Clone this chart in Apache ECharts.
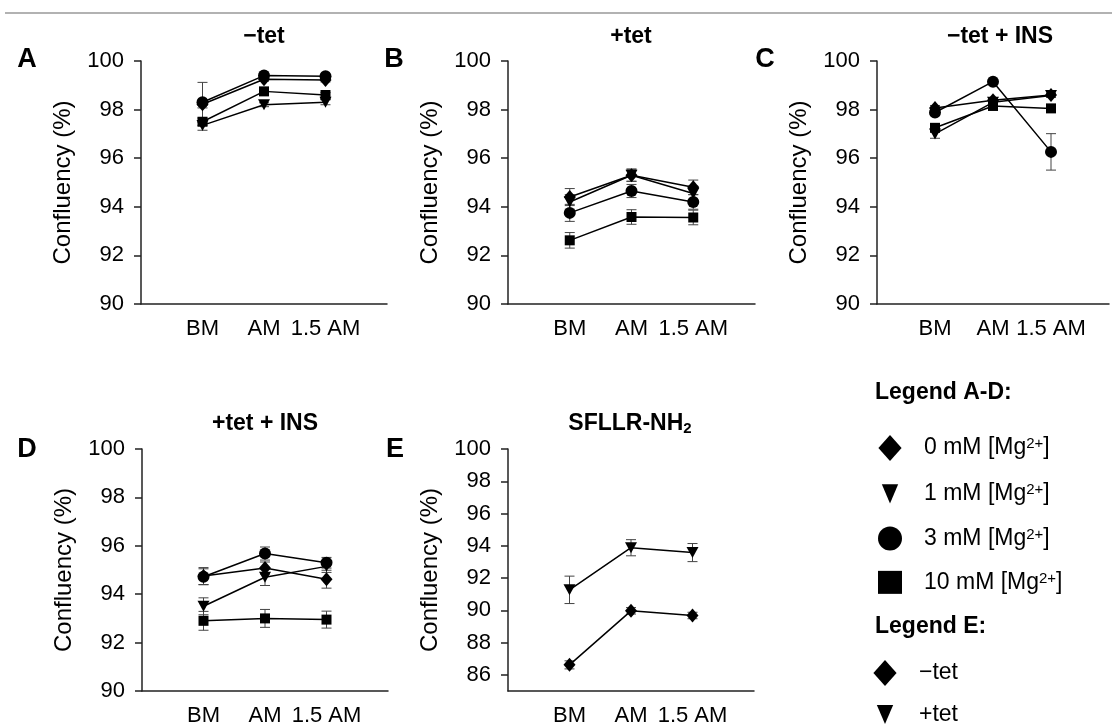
<!DOCTYPE html>
<html><head><meta charset="utf-8">
<script src="https://cdn.jsdelivr.net/npm/echarts@6/dist/echarts.min.js"></script>
<style>html,body{margin:0;padding:0;background:#fff}#c{width:1112px;height:727px}</style>
</head><body><div id="c"></div>
<script>
const CATS = ['BM', 'AM', '1.5 AM'];
const LEGEND_AD = ['0 mM', '1 mM', '3 mM', '10 mM'];
const LEGEND_E = ['\u2212tet', '+tet'];
const PANEL_TITLES = ['\u2212tet', '+tet', '\u2212tet + INS', '+tet + INS', 'SFLLR-NH'];
const PANEL_LETTERS = ['A', 'B', 'C', 'D', 'E'];
const Y_TICKS_AD = [90, 92, 94, 96, 98, 100];
const Y_TICKS_E = [86, 88, 90, 92, 94, 96, 98, 100];

// Panel A (-tet)
const A_MG0 = [98.22, 99.25, 99.22];   const A_MG0_ERR = [0.15, 0.08, 0.08];
const A_MG1 = [97.35, 98.2, 98.3];     const A_MG1_ERR = [0.2, 0.08, 0.1];
const A_MG3 = [98.3, 99.4, 99.37];     const A_MG3_ERR = [0.82, 0.08, 0.08];
const A_MG10 = [97.5, 98.75, 98.6];    const A_MG10_ERR = [0.15, 0.1, 0.1];
// Panel B (+tet)
const B_MG0 = [94.4, 95.3, 94.8];      const B_MG0_ERR = [0.35, 0.25, 0.3];
const B_MG1 = [94.2, 95.3, 94.55];     const B_MG1_ERR = [0.3, 0.25, 0.3];
const B_MG3 = [93.75, 94.65, 94.2];    const B_MG3_ERR = [0.35, 0.27, 0.3];
const B_MG10 = [92.62, 93.58, 93.56];  const B_MG10_ERR = [0.32, 0.3, 0.3];
// Panel C (-tet + INS)
const C_MG0 = [98.07, 98.38, 98.6];    const C_MG0_ERR = [0.1, 0.1, 0.08];
const C_MG1 = [97.0, 98.3, 98.58];     const C_MG1_ERR = [0.18, 0.1, 0.08];
const C_MG3 = [97.88, 99.15, 96.26];   const C_MG3_ERR = [0.12, 0.08, 0.75];
const C_MG10 = [97.25, 98.15, 98.05];  const C_MG10_ERR = [0.1, 0.1, 0.08];
// Panel D (+tet + INS)
const D_MG0 = [94.75, 95.08, 94.62];   const D_MG0_ERR = [0.35, 0.25, 0.37];
const D_MG1 = [93.5, 94.7, 95.15];     const D_MG1_ERR = [0.35, 0.34, 0.25];
const D_MG3 = [94.72, 95.68, 95.3];    const D_MG3_ERR = [0.33, 0.27, 0.22];
const D_MG10 = [92.9, 93.0, 92.95];    const D_MG10_ERR = [0.39, 0.37, 0.35];
// Panel E (SFLLR-NH2)
const E_MINUS = [86.62, 89.97, 89.68]; const E_MINUS_ERR = [0.25, 0.2, 0.2];
const E_PLUS = [91.27, 93.88, 93.58];  const E_PLUS_ERR = [0.85, 0.5, 0.56];

const FONT = 'Liberation Sans, Arial, sans-serif';
const TRI = 'path://M0,0L12,0L6,11Z';
const SYM = {
  d: {symbol: 'diamond', size: [12, 14]},
  t: {symbol: TRI, size: [12, 11]},
  c: {symbol: 'circle', size: 12},
  s: {symbol: 'rect', size: 10}
};
const ICON = {
  d: 'path://M12.5,0L25,14L12.5,28L0,14Z',
  t: 'path://M-4,-3M0,0L17,0L8.5,20ZM21,23',
  c: 'circle',
  s: 'path://M0,0L24,0L24,23L0,23Z'
};

const grids = [
  {left: 141, top: 61, width: 246, height: 243},
  {left: 508, top: 61, width: 247, height: 243},
  {left: 877, top: 61, width: 246, height: 243},
  {left: 142, top: 449, width: 246, height: 244},
  {left: 508, top: 449, width: 246, height: 244}
];

const panels = [
  [[LEGEND_AD[0], A_MG0, A_MG0_ERR, 'd'], [LEGEND_AD[1], A_MG1, A_MG1_ERR, 't'], [LEGEND_AD[2], A_MG3, A_MG3_ERR, 'c'], [LEGEND_AD[3], A_MG10, A_MG10_ERR, 's']],
  [[LEGEND_AD[0], B_MG0, B_MG0_ERR, 'd'], [LEGEND_AD[1], B_MG1, B_MG1_ERR, 't'], [LEGEND_AD[2], B_MG3, B_MG3_ERR, 'c'], [LEGEND_AD[3], B_MG10, B_MG10_ERR, 's']],
  [[LEGEND_AD[0], C_MG0, C_MG0_ERR, 'd'], [LEGEND_AD[1], C_MG1, C_MG1_ERR, 't'], [LEGEND_AD[2], C_MG3, C_MG3_ERR, 'c'], [LEGEND_AD[3], C_MG10, C_MG10_ERR, 's']],
  [[LEGEND_AD[0], D_MG0, D_MG0_ERR, 'd'], [LEGEND_AD[1], D_MG1, D_MG1_ERR, 't'], [LEGEND_AD[2], D_MG3, D_MG3_ERR, 'c'], [LEGEND_AD[3], D_MG10, D_MG10_ERR, 's']],
  [[LEGEND_E[0], E_MINUS, E_MINUS_ERR, 'd'], [LEGEND_E[1], E_PLUS, E_PLUS_ERR, 't']]
];

function errRender(params, api) {
  const x = api.value(0), lo = api.value(1), hi = api.value(2);
  const p1 = api.coord([x, hi]), p2 = api.coord([x, lo]);
  const w = 5, st = {stroke: '#444', lineWidth: 1};
  return {type: 'group', children: [
    {type: 'line', shape: {x1: p1[0], y1: p1[1], x2: p2[0], y2: p2[1]}, style: st},
    {type: 'line', shape: {x1: p1[0] - w, y1: p1[1], x2: p1[0] + w, y2: p1[1]}, style: st},
    {type: 'line', shape: {x1: p2[0] - w, y1: p2[1], x2: p2[0] + w, y2: p2[1]}, style: st}
  ]};
}

const xAxes = [], yAxes = [], series = [];
grids.forEach((g, gi) => {
  xAxes.push({
    type: 'value', gridIndex: gi, min: 0, max: 4, interval: 1,
    axisLine: {show: true, lineStyle: {color: '#222', width: 1.5}},
    axisTick: {show: false}, splitLine: {show: false},
    axisLabel: {fontSize: 22, color: '#000', fontFamily: FONT, margin: 14,
      formatter: v => CATS[v - 1] || ''}
  });
  const isE = gi === 4;
  yAxes.push({
    type: 'value', gridIndex: gi, min: isE ? 85 : 90, max: 100, interval: isE ? 1 : 2,
    name: 'Confluency (%)', nameLocation: 'middle', nameGap: 66,
    nameTextStyle: {fontSize: 24, color: '#000', fontFamily: FONT},
    axisLine: {show: true, lineStyle: {color: '#222', width: 1.5}},
    axisTick: {show: true, length: 7, lineStyle: {color: '#222', width: 1.5},
      customValues: isE ? Y_TICKS_E : Y_TICKS_AD},
    splitLine: {show: false},
    axisLabel: {fontSize: 22, color: '#000', fontFamily: FONT, margin: 17,
      customValues: isE ? Y_TICKS_E : Y_TICKS_AD}
  });
  panels[gi].forEach(([name, vals, errs, sk]) => {
    series.push({
      type: 'custom', xAxisIndex: gi, yAxisIndex: gi, silent: true, z: 2,
      renderItem: errRender, encode: {x: 0, y: [1, 2]},
      data: vals.map((v, i) => [i + 1, v - errs[i], v + errs[i]])
    });
    series.push({
      type: 'line', name: name, xAxisIndex: gi, yAxisIndex: gi, z: 3,
      data: vals.map((v, i) => [i + 1, v]),
      symbol: SYM[sk].symbol, symbolSize: SYM[sk].size,
      lineStyle: {color: '#000', width: 1.5},
      itemStyle: {color: '#000'}, animation: false
    });
  });
});

const graphics = [
  {type: 'line', shape: {x1: 5, y1: 13, x2: 1112, y2: 13}, style: {stroke: '#999', lineWidth: 1.5}}
];
const titleCenters = [[264, 37], [631, 37], [1000, 37], [265, 424], [630, 424]];
PANEL_TITLES.forEach((t, i) => {
  const txt = i === 4 ? '{b|' + t + '}{s|2}' : '{b|' + t + '}';
  graphics.push({type: 'text', x: titleCenters[i][0], y: titleCenters[i][1],
    style: {text: txt, align: 'center', verticalAlign: 'middle',
      rich: {b: {fontSize: 23, fontWeight: 'bold', fontFamily: FONT, fill: '#000'},
             s: {fontSize: 15, fontWeight: 'bold', fontFamily: FONT, fill: '#000', verticalAlign: 'bottom', padding: [10, 0, 0, 0]}}}});
});
const letterPos = [[27, 60], [394, 60], [765, 60], [27, 450], [395, 450]];
PANEL_LETTERS.forEach((t, i) => {
  graphics.push({type: 'text', x: letterPos[i][0], y: letterPos[i][1],
    style: {text: t, align: 'center', verticalAlign: 'middle', fontSize: 27, fontWeight: 'bold', fontFamily: FONT, fill: '#000'}});
});
graphics.push({type: 'text', x: 875, y: 393, style: {text: 'Legend A-D:', verticalAlign: 'middle', fontSize: 23, fontWeight: 'bold', fontFamily: FONT, fill: '#000'}});
graphics.push({type: 'text', x: 875, y: 627, style: {text: 'Legend E:', verticalAlign: 'middle', fontSize: 23, fontWeight: 'bold', fontFamily: FONT, fill: '#000'}});

const richLegend = {
  f: {fontSize: 23, fontFamily: FONT, color: '#000', padding: [0, 0, 0, 17]},
  t: {fontSize: 23, fontFamily: FONT, color: '#000'},
  s: {fontSize: 15, fontFamily: FONT, color: '#000', verticalAlign: 'top'}
};
const richLegendE = {
  f: {fontSize: 23, fontFamily: FONT, color: '#000', padding: [0, 0, 0, 17], lineHeight: 20}
};

const option = {
  animation: false,
  grid: grids,
  xAxis: xAxes,
  yAxis: yAxes,
  series: series,
  graphic: graphics,
  legend: [
    {
      data: LEGEND_AD.map((n, i) => ({name: n, icon: ICON['dtcs'[i]]})),
      orient: 'vertical', left: 873, top: 430, itemWidth: 24, itemHeight: 26, itemGap: 20.3,
      selectedMode: false,
      formatter: n => '{f|' + n + ' [Mg}{s|2+}{t|]}',
      textStyle: {rich: richLegend}
    },
    {
      data: LEGEND_E.map((n, i) => ({name: n, icon: ICON['dt'[i]]})),
      orient: 'vertical', left: 873, top: 660, height: 100, itemWidth: 24, itemHeight: 26, itemGap: 16,
      padding: 0,
      selectedMode: false,
      formatter: n => '{f|' + n + '}',
      textStyle: {rich: richLegendE}
    }
  ]
};
const chart = echarts.init(document.getElementById('c'), null, {renderer: 'canvas'});
chart.setOption(option);
</script>
</body></html>
